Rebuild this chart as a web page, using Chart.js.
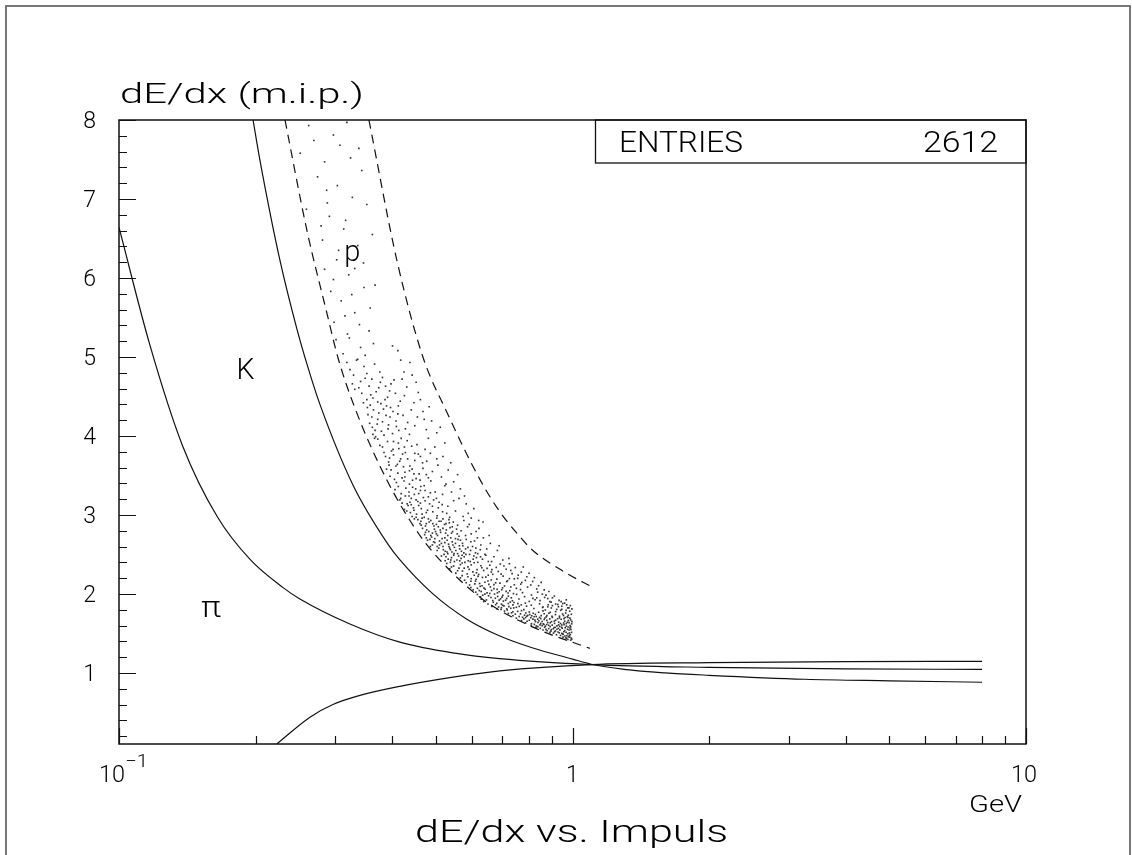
<!DOCTYPE html>
<html>
<head>
<meta charset="utf-8">
<script src="https://cdn.jsdelivr.net/npm/chart.js@4.4.1/dist/chart.umd.min.js"></script>
<style>
  html, body { margin: 0; padding: 0; background: #fff; }
  canvas { display: block; }
</style>
</head>
<body>
<canvas id="c" width="1132" height="855"></canvas>
<script>
// dE/dx vs. momentum — PAW style plot

// ── axis ticks ──
const Y_MAJOR = [1, 2, 3, 4, 5, 6, 7, 8];
const X_MAJOR = [0.1, 1, 10];
const X_MINOR = [0.2, 0.3, 0.4, 0.5, 0.6, 0.7, 0.8, 0.9, 2, 3, 4, 5, 6, 7, 8, 9];

// ── curves (p in GeV, dE/dx in m.i.p.) ──
const PION_P    = [0.1, 0.117, 0.138, 0.165, 0.195, 0.23, 0.25, 0.323, 0.416, 0.55, 0.69, 1.1, 2, 4, 8];
const PION_DEDX = [6.64, 5.15, 3.88, 2.97, 2.43, 2.08, 1.94, 1.62, 1.39, 1.25, 1.18, 1.105, 1.07, 1.05, 1.045];

const KAON_P    = [0.1975, 0.2047, 0.2265, 0.2469, 0.2597, 0.2774, 0.328, 0.3917, 0.4164, 0.4923, 0.5849, 0.6915, 0.8178, 1.0, 1.1, 1.3, 1.6, 2, 3.25, 5, 8];
const KAON_DEDX = [8.0, 7.48, 6.22, 5.35, 4.91, 4.40, 3.38, 2.63, 2.43, 2.0, 1.68, 1.467, 1.315, 1.175, 1.11, 1.045, 1.0, 0.97, 0.92, 0.9, 0.882];

const LOW_P    = [0.2227, 0.2637, 0.2963, 0.3399, 0.4164, 0.5366, 0.6915, 1.1, 2, 4, 8];
const LOW_DEDX = [0.1, 0.44, 0.6, 0.715, 0.83, 0.94, 1.025, 1.105, 1.13, 1.143, 1.147];

const BAND_LO_P    = [0.2323, 0.2597, 0.2875, 0.304, 0.333, 0.3898, 0.4608, 0.5178, 0.6344, 0.8178, 1.092];
const BAND_LO_DEDX = [8.0, 6.6, 5.55, 4.99, 4.32, 3.44, 2.74, 2.39, 1.93, 1.58, 1.31];

const BAND_HI_P    = [0.3557, 0.4101, 0.4679, 0.5284, 0.6248, 0.6915, 0.7538, 0.8178, 0.9715, 1.103];
const BAND_HI_DEDX = [8.0, 6.22, 5.0, 4.3, 3.45, 3.04, 2.77, 2.55, 2.26, 2.09];

// ── proton entries (thinned) ──
const PROTONS = [
  // dE/dx 5 – 8
  [0.262,7.93],[0.297,7.81],[0.318,7.97],[0.338,7.64],[0.251,7.58],[0.284,7.47],[0.343,7.36],[0.274,7.28],[0.303,7.17],[0.327,7.02],
  [0.259,6.87],[0.291,6.78],[0.352,6.93],[0.313,6.62],[0.281,6.48],[0.336,6.41],[0.302,6.23],[0.284,6.11],[0.321,6.04],[0.347,5.88],
  [0.293,5.83],[0.309,5.71],[0.331,5.56],[0.298,5.44],[0.356,5.33],[0.322,5.24],[0.341,5.12],[0.312,5.04],[0.364,5.17],[0.334,4.96],
  [0.307,7.68],[0.287,7.11],[0.316,6.73],[0.346,6.19],[0.297,5.98],[0.326,5.79],[0.358,5.62],[0.339,5.41],[0.319,5.29],[0.349,5.02],
  [0.269,7.74],[0.324,7.52],[0.288,6.95],[0.305,6.35],[0.362,6.55],[0.279,6.66],[0.331,6.12],[0.315,5.52],[0.367,5.91],[0.301,5.22],
  // 4 – 5
  [0.318,4.93],[0.347,4.88],[0.376,4.81],[0.329,4.77],[0.361,4.72],[0.398,4.66],[0.338,4.61],[0.369,4.56],[0.391,4.49],[0.352,4.46],
  [0.417,4.44],[0.358,4.39],[0.383,4.34],[0.402,4.31],[0.354,4.27],[0.372,4.21],[0.408,4.19],[0.393,4.14],[0.362,4.11],[0.428,4.09],
  [0.379,4.06],[0.401,4.03],[0.368,3.99],[0.419,3.97],[0.343,4.54],[0.366,4.91],[0.387,4.63],[0.413,4.38],[0.374,4.29],[0.396,4.24],
  [0.357,4.16],[0.414,4.07],[0.384,4.01],[0.437,4.02],[0.331,4.59],[0.404,4.71],[0.323,4.84],[0.352,4.79],[0.381,4.74],[0.341,4.69],
  [0.359,4.52],[0.372,4.43],[0.389,4.38],[0.346,4.42],[0.364,4.33],[0.381,4.18],[0.423,4.26],[0.367,4.07],[0.392,4.09],[0.409,4.12],
  [0.336,4.97],[0.356,4.63],[0.377,4.68],[0.395,4.57],[0.426,4.51],[0.363,4.48],[0.353,4.36],[0.386,4.46],[0.407,4.54],[0.371,4.15],
  [0.363,4.02],[0.397,4.36],[0.433,4.17],[0.378,4.41],[0.349,4.73],[0.327,4.66],[0.388,4.26],[0.412,4.28],[0.361,4.24],[0.374,4.61],
  [0.412,5.08],[0.438,4.93],[0.425,4.81],[0.452,4.68],[0.418,4.96],[0.443,4.77],[0.431,4.62],[0.457,4.55],[0.401,5.14],[0.421,4.72],
  [0.447,4.42],[0.468,4.31],[0.489,4.19],[0.455,4.24],[0.476,4.08],[0.502,4.04],[0.462,4.46],[0.441,4.33],[0.483,4.37],[0.511,4.11],
  [0.449,4.13],[0.471,4.21],
  // 3 – 4
  [0.372,3.96],[0.391,3.93],[0.413,3.91],[0.442,3.87],[0.381,3.86],[0.402,3.83],[0.428,3.79],[0.457,3.77],[0.387,3.74],[0.418,3.71],
  [0.449,3.69],[0.393,3.67],[0.411,3.64],[0.438,3.62],[0.468,3.59],[0.398,3.57],[0.427,3.54],[0.459,3.52],[0.396,3.49],[0.421,3.47],
  [0.452,3.46],[0.487,3.43],[0.409,3.41],[0.437,3.39],[0.471,3.37],[0.429,3.34],[0.406,3.32],[0.462,3.31],[0.498,3.29],[0.419,3.27],
  [0.448,3.26],[0.481,3.23],[0.441,3.21],[0.416,3.19],[0.473,3.18],[0.508,3.16],[0.432,3.14],[0.458,3.12],[0.491,3.11],[0.446,3.09],
  [0.426,3.07],[0.479,3.06],[0.517,3.04],[0.439,3.03],[0.466,3.01],[0.503,2.99],[0.453,3.01],[0.434,3.12],[0.463,3.36],[0.424,3.61],
  [0.454,3.89],[0.476,3.51],[0.394,3.63],[0.414,3.84],[0.486,3.28],[0.444,3.44],[0.506,3.09],[0.433,3.71],[0.467,3.66],[0.436,3.24],
  [0.494,3.19],[0.456,3.17],[0.412,3.53],[0.528,3.02],[0.376,3.88],[0.366,3.97],[0.403,3.76],[0.432,3.94],[0.422,3.77],[0.399,3.81],
  [0.443,3.58],[0.408,3.62],[0.425,3.43],[0.451,3.33],[0.413,3.36],[0.469,3.22],[0.438,3.16],[0.421,3.15],[0.484,3.14],[0.447,3.06],
  [0.464,3.08],[0.431,3.05],[0.476,3.03],[0.492,3.04],[0.461,3.44],[0.427,3.48],[0.405,3.45],[0.481,3.47],[0.447,3.52],[0.436,3.29],
  [0.418,3.21],[0.458,3.27],[0.473,3.31],[0.441,3.13],[0.437,3.56],[0.384,3.79],[0.395,3.72],[0.462,3.74],[0.477,3.68],[0.416,3.68],
  [0.389,3.58],[0.449,3.78],[0.403,3.93],[0.426,3.86],[0.516,3.13],[0.501,3.21],[0.452,3.19],[0.428,3.24],[0.462,3.15],[0.444,3.35],
  [0.481,3.97],[0.497,3.86],[0.518,3.74],[0.486,3.78],[0.505,3.63],[0.532,3.57],[0.491,3.55],[0.514,3.48],[0.547,3.42],[0.523,3.91],
  [0.502,3.71],[0.539,3.66],[0.473,3.83],[0.558,3.51],[0.526,3.39],
  [0.523,3.37],[0.541,3.29],[0.562,3.21],[0.583,3.14],[0.531,3.11],[0.552,3.05],[0.574,2.98],[0.598,2.96],[0.517,3.26],[0.566,3.33],
  [0.606,3.08],[0.547,3.18],[0.589,3.02],[0.536,2.97],[0.621,2.93],[0.578,3.24],
  // 2.4 – 3
  [0.443,2.98],[0.471,2.97],[0.502,2.96],[0.534,2.94],[0.456,2.94],[0.487,2.93],[0.513,2.92],[0.546,2.91],[0.461,2.89],[0.492,2.89],
  [0.522,2.88],[0.558,2.87],[0.474,2.86],[0.506,2.85],[0.537,2.84],[0.467,2.83],[0.496,2.82],[0.527,2.81],[0.568,2.8],[0.482,2.79],
  [0.512,2.78],[0.541,2.77],[0.501,2.76],[0.472,2.75],[0.531,2.74],[0.562,2.73],[0.489,2.72],[0.523,2.71],[0.552,2.7],[0.583,2.69],
  [0.479,2.68],[0.509,2.67],[0.543,2.66],[0.497,2.65],[0.572,2.64],[0.533,2.63],[0.491,2.62],[0.563,2.61],[0.518,2.6],[0.602,2.6],
  [0.549,2.59],[0.507,2.58],[0.581,2.57],[0.538,2.56],[0.503,2.55],[0.569,2.54],[0.529,2.53],[0.611,2.52],[0.558,2.51],[0.521,2.5],
  [0.593,2.5],[0.547,2.49],[0.514,2.48],[0.577,2.47],[0.627,2.47],[0.541,2.46],[0.568,2.45],[0.532,2.44],[0.604,2.44],[0.556,2.43],
  [0.524,2.42],[0.589,2.42],[0.652,2.41],[0.549,2.41],[0.579,2.4],[0.618,2.4],[0.538,2.4],[0.508,2.92],[0.477,2.81],[0.544,2.79],
  [0.516,2.7],[0.566,2.68],[0.486,2.6],[0.536,2.58],[0.596,2.55],[0.526,2.47],[0.614,2.46],[0.576,2.52],[0.545,2.62],[0.504,2.74],
  [0.597,2.66],[0.466,2.96],[0.587,2.85],[0.626,2.56],[0.644,2.49],[0.535,2.9],[0.555,2.82],[0.494,2.66],[0.564,2.57],[0.606,2.48],
  [0.525,2.77],[0.495,2.86],[0.452,2.97],[0.483,2.91],[0.518,2.95],[0.476,2.89],[0.464,2.87],[0.499,2.79],[0.487,2.74],[0.476,2.71],
  [0.514,2.64],[0.529,2.68],[0.552,2.64],[0.519,2.56],[0.531,2.51],[0.542,2.53],[0.561,2.48],[0.553,2.55],[0.588,2.59],[0.573,2.61],
  [0.539,2.71],[0.518,2.83],[0.501,2.88],[0.481,2.95],[0.526,2.89],[0.557,2.76],[0.581,2.74],[0.612,2.58],[0.633,2.44],[0.595,2.41],
  [0.564,2.42],[0.539,2.43],[0.571,2.49],[0.548,2.51],[0.497,2.7],[0.509,2.62],[0.523,2.65],[0.491,2.77],[0.511,2.81],[0.543,2.85],
  [0.463,2.92],[0.448,2.95],[0.474,2.78],[0.534,2.6],[0.582,2.5],[0.559,2.69],[0.618,2.51],[0.524,2.54],[0.485,2.69],[0.503,2.6],
  [0.592,2.88],[0.613,2.79],[0.636,2.71],[0.659,2.64],[0.683,2.55],[0.608,2.67],[0.628,2.62],[0.647,2.57],[0.671,2.47],[0.702,2.43],
  [0.598,2.76],[0.622,2.83],[0.641,2.5],[0.663,2.41],[0.724,2.45],[0.617,2.71],[0.655,2.74],[0.689,2.61],[0.576,2.93],[0.635,2.91],
  // 1.8 – 2.4
  [0.528,2.386],[0.566,2.371],[0.607,2.394],[0.657,2.364],[0.693,2.379],[0.547,2.353],[0.588,2.343],[0.628,2.357],[0.679,2.336],[0.536,2.318],
  [0.577,2.326],[0.616,2.307],[0.648,2.323],[0.714,2.312],[0.558,2.294],[0.603,2.279],[0.637,2.297],[0.686,2.284],[0.553,2.263],[0.586,2.253],
  [0.614,2.268],[0.667,2.248],[0.736,2.257],[0.571,2.232],[0.619,2.222],[0.652,2.237],[0.703,2.225],[0.566,2.204],[0.598,2.193],[0.633,2.209],
  [0.681,2.188],[0.757,2.197],[0.578,2.173],[0.611,2.162],[0.662,2.177],[0.719,2.167],[0.583,2.142],[0.624,2.132],[0.641,2.148],[0.692,2.136],
  [0.773,2.146],[0.593,2.113],[0.632,2.104],[0.671,2.118],[0.708,2.101],[0.744,2.116],[0.597,2.082],[0.638,2.074],[0.659,2.089],[0.701,2.077],
  [0.796,2.087],[0.604,2.052],[0.623,2.043],[0.682,2.058],[0.727,2.041],[0.768,2.055],[0.612,2.023],[0.648,2.013],[0.689,2.028],[0.721,2.011],
  [0.838,2.022],[0.617,1.993],[0.634,1.984],[0.673,1.998],[0.702,1.981],[0.753,1.994],[0.812,1.986],[0.627,1.963],[0.661,1.954],[0.684,1.968],
  [0.733,1.951],[0.784,1.966],[0.868,1.956],[0.629,1.933],[0.646,1.924],[0.694,1.938],[0.712,1.921],[0.762,1.935],[0.827,1.926],[0.637,1.903],
  [0.669,1.894],[0.704,1.909],[0.743,1.891],[0.803,1.905],[0.897,1.896],[0.651,1.873],[0.677,1.864],[0.722,1.878],[0.771,1.861],[0.846,1.875],
  [0.928,1.866],[0.664,1.843],[0.687,1.834],[0.706,1.848],[0.752,1.831],[0.792,1.845],[0.882,1.836],[0.681,1.813],[0.696,1.804],[0.731,1.818],
  [0.781,1.801],[0.822,1.815],[0.947,1.806],
  [0.541,2.341],[0.562,2.327],[0.592,2.311],[0.572,2.289],[0.621,2.246],[0.588,2.218],[0.607,2.237],[0.644,2.213],[0.597,2.161],[0.613,2.186],
  [0.651,2.164],[0.609,2.128],[0.626,2.096],[0.654,2.121],[0.677,2.141],[0.617,2.071],[0.642,2.059],[0.663,2.044],[0.629,2.031],[0.671,2.067],
  [0.698,2.052],[0.641,1.997],[0.657,2.006],[0.683,2.013],[0.714,2.033],[0.653,1.976],[0.676,1.945],[0.699,1.959],[0.722,1.972],[0.667,1.916],
  [0.689,1.921],[0.716,1.943],[0.737,1.914],[0.681,1.882],[0.697,1.871],[0.729,1.897],[0.758,1.877],[0.701,1.856],[0.724,1.839],[0.739,1.862],
  [0.697,1.826],[0.716,1.811],[0.742,1.823],[0.763,1.842],[0.811,1.857],[0.859,1.828],[0.787,1.883],[0.818,1.944],[0.741,2.004],[0.776,2.016],
  [0.731,2.088],[0.752,2.071],[0.716,2.156],[0.726,2.194],[0.662,2.277],[0.696,2.251],[0.631,2.331],[0.664,2.308],[0.598,2.367],[0.571,2.392],
  [0.726,2.382],[0.748,2.334],[0.771,2.276],[0.793,2.218],[0.817,2.158],[0.842,2.104],[0.866,2.052],[0.731,2.297],[0.759,2.237],[0.787,2.171],
  [0.809,2.113],[0.834,2.063],[0.887,2.031],[0.706,2.354],[0.779,2.341],[0.802,2.262],[0.853,2.147],[0.824,2.206],[0.744,2.191],[0.769,2.124],
  [0.874,1.984],[0.903,1.951],[0.934,1.918],[0.961,1.884],[0.989,1.852],[0.891,1.903],[0.918,1.872],[0.947,1.844],[0.976,1.823],[0.912,1.973],
  [0.858,1.997],[0.944,1.902],[0.997,1.811],[0.882,1.941],[0.969,1.925],
  // 1.4 – 1.8
  [0.708,1.783],[0.739,1.774],[0.772,1.788],[0.803,1.771],[0.861,1.785],[0.918,1.776],[0.968,1.791],[0.722,1.753],[0.748,1.744],[0.789,1.758],
  [0.828,1.741],[0.887,1.755],[0.951,1.746],[0.739,1.723],[0.763,1.714],[0.797,1.728],[0.823,1.711],[0.853,1.725],[0.901,1.716],[0.979,1.731],
  [0.752,1.693],[0.781,1.684],[0.809,1.698],[0.838,1.681],[0.869,1.695],[0.927,1.686],[0.963,1.701],[0.772,1.663],[0.794,1.654],[0.826,1.668],
  [0.857,1.651],[0.878,1.665],[0.912,1.656],[0.991,1.671],[0.788,1.633],[0.812,1.624],[0.839,1.638],[0.862,1.621],[0.893,1.635],[0.941,1.626],
  [0.974,1.641],[0.811,1.603],[0.832,1.594],[0.848,1.608],[0.871,1.591],[0.902,1.605],[0.924,1.596],[0.958,1.611],[0.988,1.599],[0.831,1.573],
  [0.849,1.564],[0.868,1.578],[0.886,1.561],[0.911,1.575],[0.949,1.566],[0.978,1.581],[0.861,1.543],[0.879,1.534],[0.898,1.548],[0.917,1.531],
  [0.938,1.545],[0.961,1.536],[0.992,1.551],[0.892,1.513],[0.908,1.504],[0.929,1.518],[0.947,1.501],[0.968,1.515],[0.984,1.506],[0.922,1.483],
  [0.941,1.474],[0.954,1.488],[0.971,1.471],[0.989,1.485],[0.953,1.453],[0.966,1.444],[0.979,1.458],[0.994,1.441],[0.977,1.423],[0.991,1.414],
  [0.903,1.852],[0.952,1.878],[0.848,1.915],[0.982,1.824],[0.931,1.838],[0.884,1.862],[0.971,1.862],[0.834,1.951],
  [0.718,1.797],[0.734,1.761],[0.757,1.779],[0.768,1.748],[0.784,1.731],[0.776,1.704],[0.793,1.717],[0.805,1.739],[0.819,1.756],[0.842,1.768],
  [0.866,1.749],[0.878,1.726],[0.846,1.702],[0.818,1.681],[0.803,1.667],[0.829,1.649],[0.843,1.661],[0.866,1.676],[0.891,1.684],[0.903,1.703],
  [0.936,1.718],[0.955,1.727],[0.974,1.712],[0.987,1.693],[0.944,1.679],[0.918,1.667],[0.899,1.649],[0.882,1.637],[0.851,1.626],[0.824,1.614],
  [0.839,1.586],[0.857,1.599],[0.877,1.612],[0.913,1.627],[0.932,1.643],[0.961,1.654],[0.983,1.636],[0.996,1.621],[0.969,1.624],[0.947,1.607],
  [0.937,1.589],[0.916,1.576],[0.893,1.587],[0.874,1.551],[0.896,1.529],[0.924,1.553],[0.946,1.578],[0.969,1.592],[0.987,1.568],[0.975,1.552],
  [0.957,1.521],[0.935,1.507],[0.913,1.522],[0.951,1.492],[0.976,1.496],[0.995,1.513],[0.984,1.473],[0.962,1.468],[0.986,1.452],[0.971,1.437],
  [0.996,1.428],[0.983,1.544],[0.991,1.584],[0.964,1.572],[0.931,1.564],[0.907,1.559],[0.886,1.603],[0.865,1.613],[0.932,1.609],[0.956,1.631],
  [0.997,1.649],[0.979,1.664],[0.958,1.688],[0.936,1.697],[0.917,1.738],[0.893,1.767],[0.871,1.797],[0.923,1.804],[0.986,1.781],[0.966,1.758],
  [0.994,1.742],[0.977,1.702],[0.898,1.822],[0.861,1.834],[0.942,1.793],[0.875,1.709],[0.851,1.688],[0.832,1.714],[0.813,1.723],[0.788,1.701]
];

const ENTRIES = 2612;
const FONT = 'Roboto, "Liberation Sans", Arial, sans-serif';

function pts(xs, ys) { return xs.map((x, i) => ({ x, y: ys[i] })); }

function curve(xs, ys, dash) {
  return {
    type: 'line', data: pts(xs, ys), showLine: true,
    borderColor: '#111', borderWidth: 1.2, borderDash: dash || [],
    pointRadius: 0, cubicInterpolationMode: 'monotone', fill: false, order: 1
  };
}

// draw text squeezed/stretched to a given width
function txt(ctx, s, x, y, size, w, align) {
  ctx.font = '300 ' + size + 'px ' + FONT;
  const m = ctx.measureText(s).width;
  ctx.save();
  ctx.translate(x, y);
  if (w) ctx.scale(w / m, 1);
  ctx.textAlign = align || 'left';
  ctx.textBaseline = 'alphabetic';
  ctx.fillText(s, 0, 0);
  ctx.restore();
}

const pawFrame = {
  id: 'pawFrame',
  afterDraw(chart) {
    const { ctx, chartArea: a, scales: { x, y } } = chart;
    ctx.save();
    ctx.fillStyle = '#000';

    // page frame
    ctx.strokeStyle = '#777';
    ctx.lineWidth = 2;
    ctx.beginPath();
    ctx.moveTo(6, 855); ctx.lineTo(6, 6); ctx.lineTo(1130, 6); ctx.lineTo(1130, 855);
    ctx.stroke();

    // plot frame
    ctx.strokeStyle = '#111';
    ctx.lineWidth = 1.5;
    ctx.strokeRect(a.left, a.top, a.right - a.left, a.bottom - a.top);

    // y ticks
    ctx.lineWidth = 1.2;
    ctx.beginPath();
    for (let v = 0.2; v < 8.01; v += 0.2) {
      const py = Math.round(y.getPixelForValue(v)) + 0.5;
      const major = Math.abs(v - Math.round(v)) < 0.01;
      ctx.moveTo(a.left, py);
      ctx.lineTo(a.left + (major ? 17 : 8), py);
    }
    // x ticks
    X_MAJOR.forEach(v => {
      const px = Math.round(x.getPixelForValue(v)) + 0.5;
      ctx.moveTo(px, a.bottom); ctx.lineTo(px, a.bottom - 16);
    });
    X_MINOR.forEach(v => {
      const px = Math.round(x.getPixelForValue(v)) + 0.5;
      ctx.moveTo(px, a.bottom); ctx.lineTo(px, a.bottom - 8);
    });
    ctx.stroke();

    // y labels
    Y_MAJOR.forEach(v => {
      txt(ctx, String(v), a.left - 23, y.getPixelForValue(v) + 8, 23, null, 'right');
    });
    // x labels
    const p01 = x.getPixelForValue(0.1);
    txt(ctx, '10', p01 - 20, a.bottom + 38, 23, 26);
    txt(ctx, '\u22121', p01 + 6, a.bottom + 23, 18, 23);
    txt(ctx, '1', x.getPixelForValue(1), a.bottom + 38, 23, null, 'center');
    txt(ctx, '10', x.getPixelForValue(10) - 2, a.bottom + 38, 23, 26, 'center');

    // axis titles
    txt(ctx, 'dE/dx (m.i.p.)', a.left + 1, a.top - 17, 27, 244);
    txt(ctx, 'GeV', a.right - 57, a.bottom + 68, 24, 53);
    txt(ctx, 'dE/dx vs. Impuls', 415, a.bottom + 98, 31, 313);

    // entries box
    ctx.lineWidth = 1.3;
    ctx.strokeRect(595.5, a.top, a.right - 595.5, 43);
    txt(ctx, 'ENTRIES', 619, a.top + 32, 29, 124);
    txt(ctx, String(ENTRIES), 998, a.top + 32, 29, 75, 'right');

    // particle labels
    txt(ctx, 'p', x.getPixelForValue(0.327), y.getPixelForValue(6.217), 29, null, 'center');
    txt(ctx, 'K', x.getPixelForValue(0.19), y.getPixelForValue(4.72), 30, 18, 'center');
    txt(ctx, '\u03c0', x.getPixelForValue(0.1596), y.getPixelForValue(1.706), 29, 20, 'center');
    ctx.restore();
  }
};

new Chart(document.getElementById('c'), {
  type: 'scatter',
  data: {
    datasets: [
      {
        data: PROTONS.map(([x, y]) => ({ x, y })),
        pointStyle: 'rect', pointRadius: 1.15, borderWidth: 0,
        backgroundColor: '#333', order: 2
      },
      curve(PION_P, PION_DEDX),
      curve(KAON_P, KAON_DEDX),
      curve(LOW_P, LOW_DEDX),
      curve(BAND_LO_P, BAND_LO_DEDX, [9, 6]),
      curve(BAND_HI_P, BAND_HI_DEDX, [9, 6])
    ]
  },
  options: {
    responsive: false, animation: false, devicePixelRatio: 1,
    layout: { padding: { left: 119, top: 120, right: 106, bottom: 111 } },
    plugins: { legend: { display: false }, tooltip: { enabled: false } },
    scales: {
      x: { type: 'logarithmic', min: 0.1, max: 10, display: false },
      y: { type: 'linear', min: 0.1, max: 8, display: false }
    }
  },
  plugins: [pawFrame]
});
</script>
</body>
</html>
